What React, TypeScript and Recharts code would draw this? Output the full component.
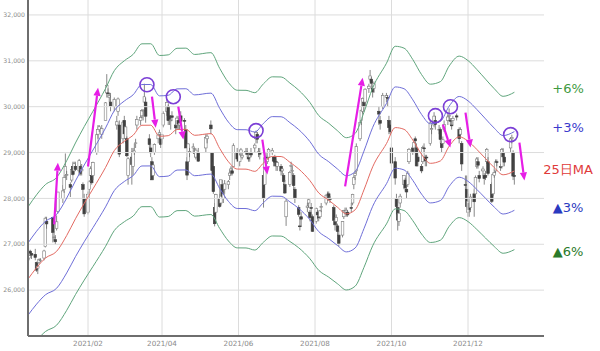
import React from 'react';
import {
  Bar,
  ComposedChart,
  Line,
  ReferenceDot,
  ReferenceLine,
  XAxis,
  YAxis,
} from 'recharts';

// day number counted from 2021-01-01
const day = (y: number, m: number, d: number) =>
  Math.round((Date.UTC(y, m - 1, d) - Date.UTC(2021, 0, 1)) / 86400000);

// daily candles: [day, open, high, low, close]
const dec20 = [
  [16, 26700, 26800, 26650, 26757], [17, 26850, 26880, 26750, 26806], [18, 26800, 26830, 26680, 26763],
  [21, 26780, 26900, 26650, 26714], [22, 26600, 26620, 26400, 26436], [23, 26480, 26550, 26350, 26524],
  [24, 26600, 26690, 26570, 26668], [25, 26650, 26700, 26620, 26656], [28, 26700, 26880, 26650, 26854],
  [29, 26950, 27600, 26930, 27568], [30, 27500, 27600, 27340, 27444],
];
const jan21 = [
  [4, 27580, 27600, 27040, 27258], [5, 27150, 27280, 27070, 27158], [6, 27100, 27200, 27000, 27055],
  [7, 27340, 27630, 27300, 27490], [8, 27720, 28140, 27670, 28139], [12, 28000, 28290, 27900, 28164],
  [13, 28200, 28500, 28120, 28456], [14, 28500, 28980, 28450, 28698], [15, 28500, 28600, 28400, 28519],
  [18, 28300, 28350, 28030, 28242], [19, 28400, 28700, 28350, 28633], [20, 28700, 28800, 28500, 28523],
  [21, 28600, 28800, 28600, 28756], [22, 28700, 28800, 28600, 28631], [25, 28600, 28860, 28500, 28822],
  [26, 28700, 28720, 28500, 28546], [27, 28600, 28750, 28500, 28635], [28, 28300, 28350, 28000, 28197],
  [29, 28000, 28100, 27600, 27663],
];
const feb21 = [
  [1, 27700, 28150, 27650, 28091], [2, 28200, 28400, 28100, 28362], [3, 28500, 28700, 28400, 28646],
  [4, 28500, 28600, 28300, 28341], [5, 28500, 28800, 28400, 28779], [8, 29000, 29400, 28950, 29388],
  [9, 29400, 29600, 29300, 29505], [10, 29500, 29600, 29450, 29562], [12, 29400, 29600, 29300, 29520],
  [15, 29700, 30100, 29700, 30084], [16, 30300, 30710, 30200, 30467], [17, 30300, 30400, 30200, 30292],
  [18, 30200, 30300, 30100, 30236], [19, 30100, 30300, 29900, 30017], [22, 30000, 30200, 29900, 30156],
  [24, 29600, 29800, 29500, 29671], [25, 29900, 30200, 29800, 30168], [26, 29600, 29700, 28900, 28966],
];
const mar21 = [
  [1, 29300, 29700, 29200, 29663], [2, 29700, 29800, 29300, 29408], [3, 29300, 29600, 29200, 29559],
  [4, 29300, 29350, 28900, 28930], [5, 28500, 28900, 28300, 28864], [8, 28900, 29100, 28300, 28743],
  [9, 28700, 29100, 28500, 29027], [10, 29000, 29200, 28950, 29036], [11, 29200, 29300, 29100, 29211],
  [12, 29600, 29800, 29500, 29717], [15, 29700, 29800, 29600, 29766], [16, 29800, 29950, 29750, 29921],
  [17, 29900, 29950, 29700, 29914], [18, 30100, 30500, 30000, 30216], [19, 30100, 30200, 29650, 29792],
  [22, 29300, 29400, 29100, 29174], [23, 29100, 29200, 28900, 28995], [24, 28800, 28900, 28400, 28405],
  [25, 28500, 28800, 28400, 28729], [26, 29000, 29200, 28950, 29176], [29, 29300, 29400, 29200, 29384],
  [30, 29400, 29500, 29300, 29432], [31, 29300, 29400, 29100, 29178],
];
const apr21 = [
  [1, 29300, 29400, 29200, 29388], [2, 29600, 29900, 29550, 29854], [5, 29900, 30170, 29800, 30089],
  [6, 30000, 30050, 29600, 29696], [7, 29800, 29900, 29600, 29730], [8, 29700, 29800, 29500, 29708],
  [9, 29800, 29900, 29700, 29768], [12, 29600, 29700, 29400, 29538], [13, 29600, 29800, 29500, 29751],
  [14, 29700, 29800, 29500, 29620], [15, 29600, 29700, 29500, 29642], [16, 29800, 29900, 29600, 29683],
  [19, 29700, 29750, 29500, 29685], [20, 29500, 29600, 29100, 29100], [21, 28800, 28900, 28400, 28508],
  [22, 28800, 29200, 28700, 29188], [23, 29000, 29100, 28900, 29020], [26, 29100, 29200, 29000, 29126],
  [27, 29000, 29100, 28900, 28991], [28, 28900, 29100, 28850, 29053], [30, 29000, 29100, 28800, 28812],
];
const may21 = [
  [6, 29100, 29400, 29000, 29331], [7, 29300, 29400, 29200, 29357], [10, 29600, 29700, 29400, 29518],
  [11, 29000, 29000, 28500, 28608], [12, 28700, 28800, 28100, 28147], [13, 27800, 27900, 27390, 27448],
  [14, 27700, 28100, 27700, 28084], [17, 28000, 28100, 27800, 27824], [18, 27900, 28400, 27850, 28406],
  [19, 28300, 28400, 28000, 28044], [20, 28000, 28200, 27900, 28098], [21, 28200, 28400, 28100, 28317],
  [24, 28300, 28400, 28200, 28364], [25, 28500, 28600, 28400, 28553], [26, 28600, 28700, 28500, 28642],
  [27, 28600, 28700, 28500, 28549], [28, 28700, 29200, 28700, 29149], [31, 29000, 29100, 28800, 28860],
];
const jun21 = [
  [1, 28900, 29000, 28700, 28814], [2, 28800, 29000, 28700, 28946], [3, 29000, 29100, 28900, 29058],
  [4, 28900, 29000, 28850, 28941], [7, 29000, 29100, 28950, 29019], [8, 29000, 29100, 28900, 28963],
  [9, 28900, 29000, 28800, 28860], [10, 28900, 29000, 28800, 28958], [11, 29000, 29100, 28900, 28948],
  [14, 29100, 29200, 29000, 29161], [15, 29300, 29480, 29200, 29441], [16, 29400, 29450, 29200, 29291],
  [17, 29000, 29100, 28900, 29018], [18, 29000, 29100, 28850, 28964], [21, 28500, 28600, 27800, 28010],
  [22, 28300, 28900, 28300, 28884], [23, 28900, 29000, 28800, 28874], [24, 28800, 28950, 28750, 28875],
  [25, 28900, 29100, 28850, 29066], [28, 29000, 29100, 28950, 29048], [29, 28900, 28900, 28700, 28812],
  [30, 28900, 28950, 28700, 28791],
];
const jul21 = [
  [1, 28800, 28850, 28600, 28707], [2, 28700, 28800, 28600, 28783], [5, 28700, 28750, 28500, 28598],
  [6, 28600, 28700, 28500, 28643], [7, 28500, 28550, 28300, 28366], [8, 28300, 28400, 28100, 28118],
  [9, 27600, 28000, 27400, 27940], [12, 28300, 28600, 28250, 28569], [13, 28700, 28800, 28600, 28718],
  [14, 28600, 28700, 28500, 28608], [15, 28500, 28550, 28200, 28279], [16, 28200, 28250, 27900, 28003],
  [19, 27800, 27850, 27600, 27652], [20, 27400, 27600, 27300, 27388], [21, 27600, 27700, 27400, 27548],
  [26, 27800, 27900, 27700, 27833], [27, 27900, 28000, 27800, 27970], [28, 27700, 27750, 27500, 27581],
  [29, 27800, 27900, 27700, 27782], [30, 27600, 27650, 27270, 27283],
];
const aug21 = [
  [2, 27500, 27800, 27450, 27781], [3, 27700, 27750, 27550, 27641], [4, 27600, 27700, 27500, 27584],
  [5, 27600, 27750, 27550, 27728], [6, 27800, 27900, 27700, 27820], [10, 27900, 28100, 27850, 28070],
  [11, 28000, 28150, 27950, 28070], [12, 28100, 28150, 27950, 28015], [13, 28000, 28050, 27900, 27977],
  [16, 27800, 27850, 27500, 27523], [17, 27500, 27550, 27300, 27424], [18, 27500, 27650, 27400, 27585],
  [19, 27400, 27450, 27200, 27281], [20, 27200, 27300, 26950, 27013], [23, 27200, 27500, 27150, 27494],
  [24, 27600, 27750, 27550, 27732], [25, 27700, 27800, 27650, 27724], [26, 27700, 27800, 27600, 27742],
  [27, 27700, 27750, 27600, 27641], [30, 27800, 27900, 27700, 27789], [31, 27900, 28100, 27850, 28089],
];
const sep21 = [
  [1, 28300, 28500, 28200, 28451], [2, 28500, 28600, 28400, 28543], [3, 28600, 29200, 28550, 29128],
  [6, 29300, 29700, 29250, 29660], [7, 29700, 29950, 29600, 29916], [8, 29900, 30200, 29850, 30181],
  [9, 30100, 30150, 29900, 30008], [10, 30100, 30400, 30000, 30381], [13, 30400, 30500, 30300, 30447],
  [14, 30600, 30800, 30550, 30670], [15, 30600, 30650, 30400, 30511], [16, 30400, 30450, 30200, 30323],
  [17, 30400, 30550, 30300, 30500], [21, 29900, 30000, 29600, 29839], [22, 29700, 29800, 29500, 29639],
  [24, 30000, 30300, 29950, 30248], [27, 30200, 30300, 30100, 30240], [28, 30200, 30250, 30000, 30183],
  [29, 29700, 29800, 29400, 29544], [30, 29600, 29700, 29400, 29452],
];
const oct21 = [
  [1, 29100, 29200, 28700, 28771], [4, 28800, 28900, 28300, 28444], [5, 28000, 28100, 27650, 27822],
  [6, 27800, 28000, 27300, 27528], [7, 27500, 27800, 27400, 27678], [8, 27900, 28100, 27800, 28048],
  [11, 28300, 28500, 28200, 28498], [12, 28400, 28450, 28150, 28230], [13, 28200, 28300, 28000, 28140],
  [14, 28300, 28600, 28250, 28551], [15, 28800, 29100, 28750, 29068], [18, 29100, 29150, 28950, 29025],
  [19, 29100, 29250, 29000, 29215], [20, 29300, 29350, 29100, 29255], [21, 29100, 29200, 28700, 28708],
  [22, 28900, 28950, 28700, 28804], [25, 28700, 28750, 28550, 28600], [26, 28800, 29150, 28750, 29106],
  [27, 29100, 29200, 29000, 29098], [28, 28900, 28950, 28700, 28820], [29, 28900, 28950, 28700, 28892],
];
const nov21 = [
  [1, 29200, 29700, 29150, 29647], [2, 29500, 29600, 29400, 29520], [4, 29600, 29880, 29550, 29794],
  [5, 29700, 29800, 29500, 29611], [8, 29500, 29600, 29400, 29507], [9, 29500, 29550, 29200, 29285],
  [10, 29200, 29250, 29000, 29106], [11, 29200, 29350, 29100, 29278], [12, 29500, 29700, 29450, 29610],
  [15, 29700, 29850, 29600, 29776], [16, 29800, 29960, 29700, 29808], [17, 29700, 29750, 29600, 29688],
  [18, 29600, 29700, 29500, 29598], [19, 29700, 29800, 29600, 29745], [22, 29800, 29850, 29700, 29774],
  [24, 29500, 29550, 29200, 29302], [25, 29400, 29550, 29300, 29499], [26, 29200, 29250, 28600, 28751],
  [29, 28300, 28500, 28000, 28283], [30, 28200, 28500, 27800, 27821],
];
const dec21 = [
  [1, 27700, 28100, 27600, 27935], [2, 27900, 27950, 27600, 27753], [3, 27800, 28100, 27700, 28029],
  [6, 28100, 28200, 27600, 27927], [7, 28100, 28500, 28050, 28455], [8, 28700, 28900, 28650, 28860],
  [9, 28800, 28900, 28650, 28725], [10, 28500, 28600, 28350, 28437], [13, 28600, 28700, 28500, 28640],
  [14, 28500, 28550, 28300, 28432], [15, 28500, 28600, 28400, 28459], [16, 28800, 29100, 28750, 29066],
  [17, 28800, 28900, 28500, 28545], [20, 28300, 28350, 27900, 27937], [21, 28100, 28550, 28050, 28517],
  [22, 28500, 28650, 28450, 28562], [23, 28600, 28850, 28550, 28798], [24, 28800, 28850, 28700, 28782],
  [27, 28700, 28750, 28600, 28676], [28, 28700, 29100, 28650, 29069], [29, 29000, 29100, 28800, 28906],
  [30, 28900, 28950, 28700, 28791],
];
const jan22 = [
  [4, 29100, 29320, 29000, 29301], [5, 29300, 29390, 29200, 29332], [6, 29000, 29050, 28400, 28487],
  [7, 28500, 28800, 28300, 28478],
];

const months: [number, number, number[][]][] = [
  [2020, 12, dec20], [2021, 1, jan21], [2021, 2, feb21], [2021, 3, mar21], [2021, 4, apr21],
  [2021, 5, may21], [2021, 6, jun21], [2021, 7, jul21], [2021, 8, aug21], [2021, 9, sep21],
  [2021, 10, oct21], [2021, 11, nov21], [2021, 12, dec21], [2022, 1, jan22],
];

// 25-day moving average, read at weekly points
const maDates = [
  [2020, 12, 15], [2020, 12, 22], [2020, 12, 29], [2021, 1, 7], [2021, 1, 15], [2021, 1, 22],
  [2021, 1, 29], [2021, 2, 5], [2021, 2, 15], [2021, 2, 22], [2021, 3, 2], [2021, 3, 9],
  [2021, 3, 16], [2021, 3, 23], [2021, 3, 30], [2021, 4, 6], [2021, 4, 13], [2021, 4, 20],
  [2021, 4, 27], [2021, 5, 10], [2021, 5, 17], [2021, 5, 24], [2021, 5, 31], [2021, 6, 7],
  [2021, 6, 14], [2021, 6, 21], [2021, 6, 28], [2021, 7, 5], [2021, 7, 12], [2021, 7, 19],
  [2021, 7, 28], [2021, 8, 4], [2021, 8, 12], [2021, 8, 19], [2021, 8, 26], [2021, 9, 2],
  [2021, 9, 9], [2021, 9, 16], [2021, 9, 27], [2021, 10, 4], [2021, 10, 11], [2021, 10, 18],
  [2021, 10, 25], [2021, 11, 1], [2021, 11, 9], [2021, 11, 16], [2021, 11, 24], [2021, 12, 1],
  [2021, 12, 8], [2021, 12, 15], [2021, 12, 22], [2021, 12, 29], [2022, 1, 7],
];
const maValues = [
  26234, 26490, 26698, 26847, 27191, 27556, 27892, 28210, 28676, 29044, 29247, 29378,
  29595, 29596, 29355, 29368, 29503, 29506, 29376, 29413, 29090, 28799, 28640, 28638,
  28590, 28775, 28916, 28913, 28788, 28642, 28386, 28119, 27960, 27806, 27664, 27751,
  28184, 28689, 29196, 29544, 29506, 29271, 28961, 28765, 28818, 29138, 29342, 29250,
  29069, 28868, 28670, 28515, 28599,
];

// envelope widths from the legend
const bandKeys = ['up6', 'up3', 'dn3', 'dn6'];
const bandPct = [0.06, 0.03, -0.03, -0.06];
const bandColors = ['#5fa57c', '#6e6ed8', '#6e6ed8', '#5fa57c'];

const xTicks = [[2021, 2, 1], [2021, 4, 1], [2021, 6, 1], [2021, 8, 1], [2021, 10, 1], [2021, 12, 1]];
const xTickLabels = ['2021/02', '2021/04', '2021/06', '2021/08', '2021/10', '2021/12'];
const yTicks = [26000, 27000, 28000, 29000, 30000, 31000, 32000];

// magenta arrows: [from date, from value, to date, to value]
const arrows: [number[], number, number[], number][] = [
  [[2021, 1, 5], 27435, [2021, 1, 8], 28780],
  [[2021, 2, 1], 28696, [2021, 2, 9], 30413],
  [[2021, 3, 24], 30217, [2021, 3, 27], 29543],
  [[2021, 4, 14], 30000, [2021, 4, 18], 29283],
  [[2021, 6, 20], 29283, [2021, 6, 24], 28522],
  [[2021, 8, 25], 28261, [2021, 9, 8], 30630],
  [[2021, 11, 11], 29609, [2021, 11, 17], 29109],
  [[2021, 11, 29], 29870, [2021, 12, 3], 29109],
  [[2022, 1, 11], 29217, [2022, 1, 15], 28391],
];
// purple circles: [date, value]
const circles: [number[], number][] = [
  [[2021, 3, 20], 30478],
  [[2021, 4, 10], 30217],
  [[2021, 6, 15], 29478],
  [[2021, 11, 5], 29804],
  [[2021, 11, 17], 30000],
  [[2022, 1, 4], 29391],
];

const legendItems = [
  { text: '+6%', color: '#3f9a3f', top: 80 },
  { text: '+3%', color: '#3a3acc', top: 119 },
  { text: '25日MA', color: '#e03a3a', top: 161 },
  { text: '▲3%', color: '#2a3ac0', top: 199 },
  { text: '▲6%', color: '#2a7a2a', top: 243 },
];

const dt = (a: number[]) => day(a[0], a[1], a[2]);
const xTickDays = xTicks.map(dt);

const candles = months.flatMap(([y, m, rows]) =>
  rows.map(([d, o, h, l, c]) => ({ t: day(y, m, d), o, h, l, c, range: [l, h] })),
);

const maData = maDates.map((a, i) => {
  const row: any = { t: dt(a), ma: maValues[i] };
  bandKeys.forEach((k, j) => (row[k] = maValues[i] * (1 + bandPct[j])));
  return row;
});

const Candle = (props: any) => {
  const { x, y, width, height, payload } = props;
  if (x == null || y == null || !payload) return null;
  const { o, h, l, c } = payload;
  const top = Math.min(y, y + height);
  const bot = Math.max(y, y + height);
  const k = h === l ? 0 : (bot - top) / (h - l);
  const py = (v: number) => top + (h - v) * k;
  const cx = x + width / 2;
  const up = c >= o;
  const bt = py(Math.max(o, c));
  const bb = py(Math.min(o, c));
  const bw = 2.6;
  return (
    <g>
      <line x1={cx} x2={cx} y1={top} y2={bot} stroke="#6a6a6a" strokeWidth={0.8} />
      <rect
        x={cx - bw / 2}
        y={bt}
        width={bw}
        height={Math.max(bb - bt, 0.8)}
        fill={up ? '#ffffff' : '#404040'}
        stroke={up ? '#7a7a7a' : '#404040'}
        strokeWidth={0.6}
      />
    </g>
  );
};

const Arrow = (props: any) => {
  const { x1, y1, x2, y2 } = props;
  if ([x1, y1, x2, y2].some((v) => v == null || isNaN(v))) return null;
  const ang = Math.atan2(y2 - y1, x2 - x1);
  const len = 8;
  const half = 3.6;
  const bx = x2 - len * Math.cos(ang);
  const by = y2 - len * Math.sin(ang);
  const px = -Math.sin(ang) * half;
  const py = Math.cos(ang) * half;
  return (
    <g>
      <line x1={x1} y1={y1} x2={bx} y2={by} stroke="#e61ee6" strokeWidth={2.2} />
      <polygon
        points={`${x2},${y2} ${bx + px},${by + py} ${bx - px},${by - py}`}
        fill="#e61ee6"
      />
    </g>
  );
};

const gridColor = '#dcdcdc';

export default function App() {
  return (
    <div
      style={{
        position: 'absolute',
        left: 0,
        top: 0,
        width: 600,
        height: 351,
        background: '#fff',
        fontFamily: 'DejaVu Sans',
      }}
    >
      <ComposedChart
        width={600}
        height={351}
        data={candles}
        margin={{ top: 0, right: 56, bottom: 0, left: 0 }}
      >
        <XAxis
          dataKey="t"
          type="number"
          domain={[-16.85, 394.6]}
          allowDataOverflow
          ticks={xTickDays}
          tickFormatter={(v) => xTickLabels[xTickDays.indexOf(v)] ?? ''}
          tick={{ fontSize: 7.2, fill: '#8a8a8a', fontFamily: 'DejaVu Sans' }}
          tickLine={false}
          tickSize={3}
          tickMargin={2}
          height={15}
          axisLine={{ stroke: '#6e6e6e', strokeWidth: 2 }}
        />
        <YAxis
          type="number"
          domain={[25000, 32326]}
          allowDataOverflow
          ticks={yTicks}
          tickFormatter={(v) => v.toLocaleString('en-US')}
          tick={{ fontSize: 6.2, fill: '#8a8a8a', fontFamily: 'DejaVu Sans' }}
          tickLine={false}
          tickSize={0}
          tickMargin={3}
          width={28}
          axisLine={{ stroke: '#6e6e6e', strokeWidth: 2 }}
        />
        {yTicks.map((v) => (
          <ReferenceLine key={'h' + v} y={v} stroke={gridColor} strokeWidth={1} />
        ))}
        {xTickDays.map((v) => (
          <ReferenceLine key={'v' + v} x={v} stroke={gridColor} strokeWidth={1} />
        ))}
        {bandKeys.map((k, j) => (
          <Line
            key={k}
            data={maData}
            dataKey={k}
            type="monotone"
            stroke={bandColors[j]}
            strokeWidth={1}
            dot={false}
            activeDot={false}
            isAnimationActive={false}
          />
        ))}
        <Line
          data={maData}
          dataKey="ma"
          type="monotone"
          stroke="#e36a62"
          strokeWidth={1}
          dot={false}
          activeDot={false}
          isAnimationActive={false}
        />
        <Bar dataKey="range" barSize={3} shape={<Candle />} isAnimationActive={false} />
        {circles.map(([d, v], i) => (
          <ReferenceDot
            key={'c' + i}
            x={dt(d)}
            y={v}
            r={7}
            fill="none"
            stroke="#7b3fd6"
            strokeWidth={1.6}
          />
        ))}
        {arrows.map(([d1, v1, d2, v2], i) => (
          <ReferenceLine
            key={'a' + i}
            segment={[
              { x: dt(d1), y: v1 },
              { x: dt(d2), y: v2 },
            ]}
            shape={Arrow}
          />
        ))}
      </ComposedChart>
      {legendItems.map((it) => (
        <div
          key={it.text}
          style={{
            position: 'absolute',
            left: 543,
            width: 50,
            top: it.top,
            textAlign: 'center',
            fontSize: 13,
            color: it.color,
            lineHeight: '18px',
          }}
        >
          {it.text}
        </div>
      ))}
    </div>
  );
}
